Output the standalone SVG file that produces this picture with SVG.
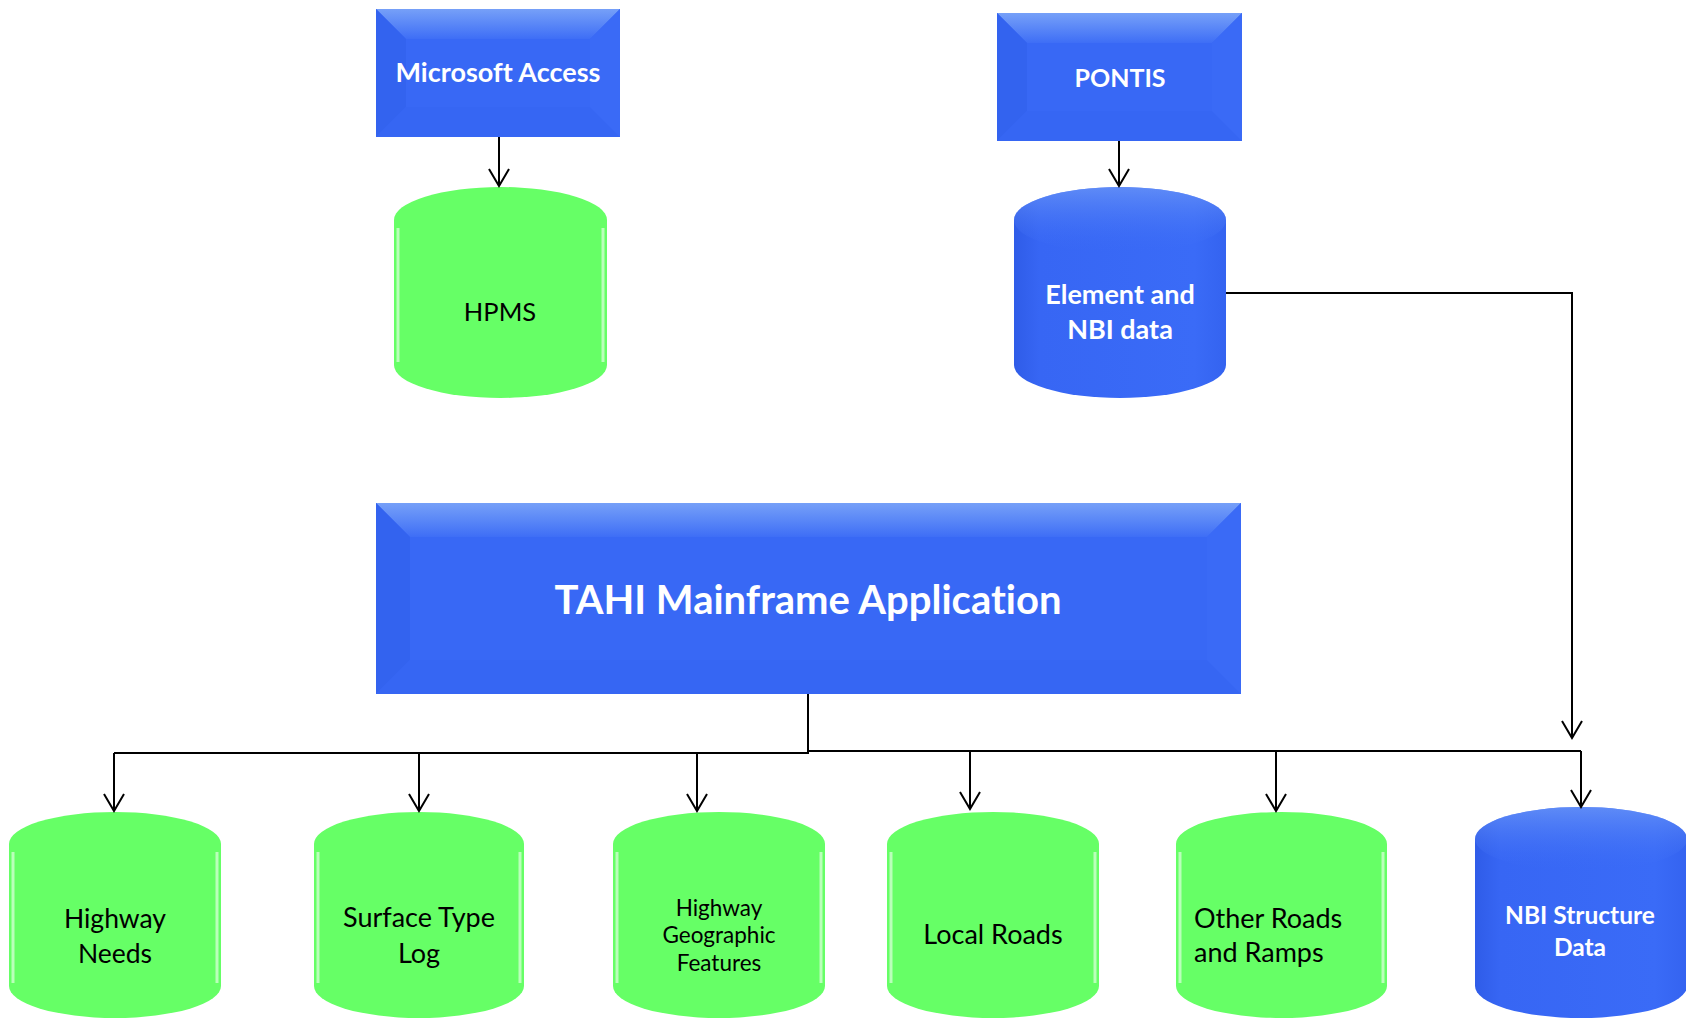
<svg xmlns="http://www.w3.org/2000/svg" width="1686" height="1019" viewBox="0 0 1686 1019">
<defs>
  <linearGradient id="topBevel" x1="0" y1="0" x2="0" y2="1">
    <stop offset="0" stop-color="#76a0f8"/>
    <stop offset="1" stop-color="#3e6ef6"/>
  </linearGradient>
  <linearGradient id="blueCyl" x1="0" y1="0" x2="1" y2="0">
    <stop offset="0" stop-color="#2f5ce8"/>
    <stop offset="0.12" stop-color="#3766f4"/>
    <stop offset="0.85" stop-color="#3a6bf7"/>
    <stop offset="1" stop-color="#3463f0"/>
  </linearGradient>
  <linearGradient id="blueCap" x1="0" y1="0" x2="0" y2="1">
    <stop offset="0" stop-color="#6f9af7"/>
    <stop offset="1" stop-color="#3a6bf7" stop-opacity="0"/>
  </linearGradient>
  <marker id="arr" viewBox="-19 -12 21 24" refX="0" refY="0" markerWidth="21" markerHeight="24" markerUnits="userSpaceOnUse" orient="auto">
    <path d="M-17,-10 L0,0 L-17,10" fill="none" stroke="#000" stroke-width="2"/>
  </marker>
</defs>
<style>
  .box { fill: #3868f5; }
  .bevL { fill: #3363ef; }
  .bevB { fill: #3666f3; }
  .bevR { fill: #3a6af6; }
  .green { fill: #66ff66; }
  .hl { stroke: #ffffff; stroke-opacity: 0.55; stroke-width: 3; fill: none; }
  .bcyl { fill: url(#blueCyl); }
  text { font-variant-ligatures: none; }
  .wt { font-family: Lato, "Liberation Sans", sans-serif; font-weight: bold; fill: #ffffff; text-anchor: middle; }
  .bt { font-family: Lato, "Liberation Sans", sans-serif; fill: #000000; text-anchor: middle; }
  .bts { font-family: Lato, "Liberation Sans", sans-serif; fill: #000000; text-anchor: start; }
  .conn { stroke: #000; stroke-width: 2; fill: none; }
</style>

<g id="node-microsoft-access">
  <rect class="box" x="376" y="9" width="244" height="128"/>
  <polygon points="376,9 620,9 590,39 406,39" fill="url(#topBevel)"/>
  <polygon class="bevL" points="376,9 406,39 406,107 376,137"/>
  <polygon class="bevB" points="376,137 406,107 590,107 620,137"/>
  <polygon class="bevR" points="620,9 590,39 590,107 620,137"/>
  <text class="wt" x="498" y="82" font-size="27">Microsoft Access</text>
</g>

<g id="node-pontis">
  <rect class="box" x="997" y="13" width="245" height="128"/>
  <polygon points="997,13 1242,13 1212,43 1027,43" fill="url(#topBevel)"/>
  <polygon class="bevL" points="997,13 1027,43 1027,111 997,141"/>
  <polygon class="bevB" points="997,141 1027,111 1212,111 1242,141"/>
  <polygon class="bevR" points="1242,13 1212,43 1212,111 1242,141"/>
  <text class="wt" x="1120" y="87" font-size="25">PONTIS</text>
</g>

<g id="node-hpms">
  <path class="green" d="M394,220 A106.5,33 0 0 1 607,220 L607,365 A106.5,33 0 0 1 394,365 Z"/>
  <path class="hl" d="M398,228 L398,362 M603,228 L603,362"/>
  <text class="bt" x="500" y="321" font-size="25.5">HPMS</text>
</g>

<g id="node-element-nbi">
  <path class="bcyl" d="M1014,220 A106,33 0 0 1 1226,220 L1226,365 A106,33 0 0 1 1014,365 Z"/>
  <path d="M1014,220 A106,33 0 0 1 1226,220 A106,33 0 0 1 1014,220 Z" fill="url(#blueCap)" opacity="0.7"/>
  <text class="wt" x="1120" y="304" font-size="27">Element and</text>
  <text class="wt" x="1120" y="339" font-size="27">NBI data</text>
</g>

<g id="node-tahi">
  <rect class="box" x="376" y="503" width="865" height="191"/>
  <polygon points="376,503 1241,503 1207,537 410,537" fill="url(#topBevel)"/>
  <polygon class="bevL" points="376,503 410,537 410,660 376,694"/>
  <polygon class="bevB" points="376,694 410,660 1207,660 1241,694"/>
  <polygon class="bevR" points="1241,503 1207,537 1207,660 1241,694"/>
  <text class="wt" x="808" y="614" font-size="40">TAHI Mainframe Application</text>
</g>

<g id="node-highway-needs">
  <path class="green" d="M9,844 A106,32 0 0 1 221,844 L221,986 A106,32 0 0 1 9,986 Z"/>
  <path class="hl" d="M13,852 L13,983 M217,852 L217,983"/>
  <text class="bt" x="115" y="928" font-size="26.5">Highway</text>
  <text class="bt" x="115" y="963" font-size="26.5">Needs</text>
</g>

<g id="node-surface-type-log">
  <path class="green" d="M314,844 A105,32 0 0 1 524,844 L524,986 A105,32 0 0 1 314,986 Z"/>
  <path class="hl" d="M318,852 L318,983 M520,852 L520,983"/>
  <text class="bt" x="419" y="927" font-size="27">Surface Type</text>
  <text class="bt" x="419" y="963" font-size="27">Log</text>
</g>

<g id="node-highway-geographic">
  <path class="green" d="M613,844 A106,32 0 0 1 825,844 L825,986 A106,32 0 0 1 613,986 Z"/>
  <path class="hl" d="M617,852 L617,983 M821,852 L821,983"/>
  <text class="bt" x="719" y="916" font-size="22.5">Highway</text>
  <text class="bt" x="719" y="943" font-size="22.5">Geographic</text>
  <text class="bt" x="719" y="971" font-size="22.5">Features</text>
</g>

<g id="node-local-roads">
  <path class="green" d="M887,844 A106,32 0 0 1 1099,844 L1099,986 A106,32 0 0 1 887,986 Z"/>
  <path class="hl" d="M891,852 L891,983 M1095,852 L1095,983"/>
  <text class="bt" x="993" y="944" font-size="27">Local Roads</text>
</g>

<g id="node-other-roads">
  <path class="green" d="M1176,844 A105.5,32 0 0 1 1387,844 L1387,986 A105.5,32 0 0 1 1176,986 Z"/>
  <path class="hl" d="M1180,852 L1180,983 M1383,852 L1383,983"/>
  <text class="bts" x="1194" y="928" font-size="27">Other Roads</text>
  <text class="bts" x="1194" y="962" font-size="27">and Ramps</text>
</g>

<g id="node-nbi-structure">
  <path class="bcyl" d="M1475,839 A106,32 0 0 1 1687,839 L1687,986 A106,32 0 0 1 1475,986 Z"/>
  <path d="M1475,839 A106,32 0 0 1 1687,839 A106,32 0 0 1 1475,839 Z" fill="url(#blueCap)" opacity="0.7"/>
  <text class="wt" x="1580" y="924" font-size="24.5">NBI Structure</text>
  <text class="wt" x="1580" y="956" font-size="24.5">Data</text>
</g>

<g id="connectors">
  <path class="conn" d="M499,137 L499,186" marker-end="url(#arr)"/>
  <path class="conn" d="M1119,141 L1119,186" marker-end="url(#arr)"/>
  <path class="conn" d="M1226,293 L1572,293 L1572,738" marker-end="url(#arr)"/>
  <path class="conn" d="M808,694 L808,753 L114,753"/>
  <path class="conn" d="M808,751 L1581,751"/>
  <path class="conn" d="M114,753 L114,811" marker-end="url(#arr)"/>
  <path class="conn" d="M419,753 L419,811" marker-end="url(#arr)"/>
  <path class="conn" d="M697,753 L697,811" marker-end="url(#arr)"/>
  <path class="conn" d="M970,751 L970,809" marker-end="url(#arr)"/>
  <path class="conn" d="M1276,751 L1276,811" marker-end="url(#arr)"/>
  <path class="conn" d="M1581,751 L1581,807" marker-end="url(#arr)"/>
</g>
</svg>
